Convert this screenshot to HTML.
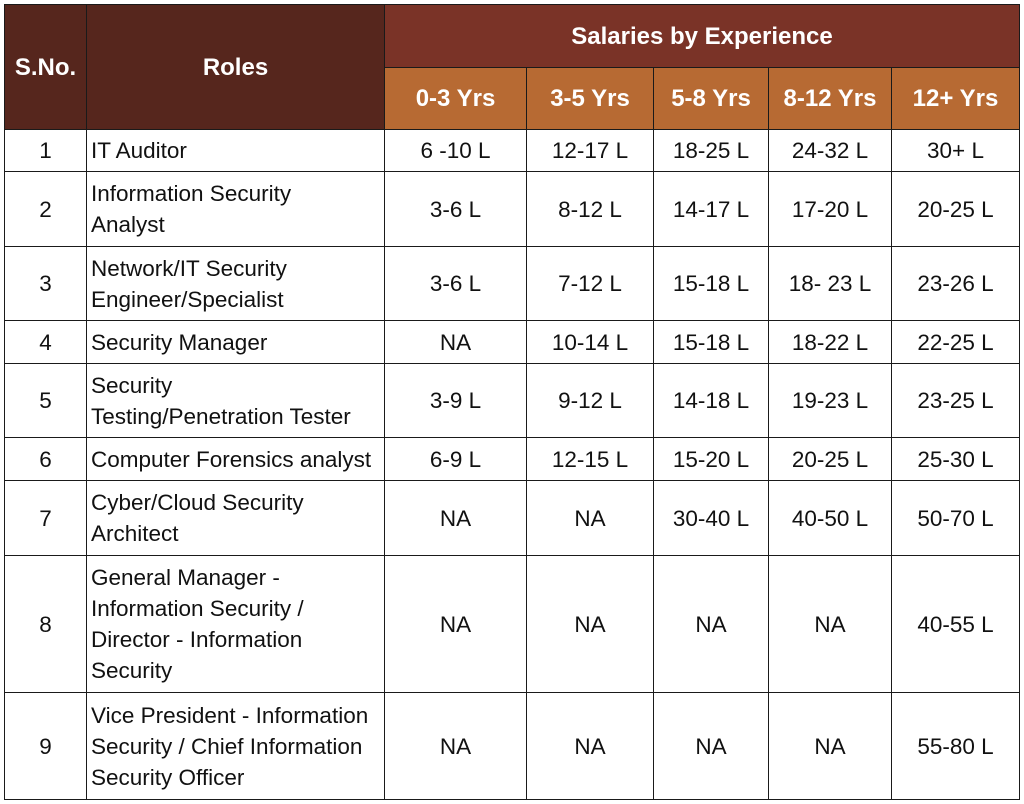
<!DOCTYPE html>
<html><head><meta charset="utf-8"><style>
html,body{margin:0;padding:0;background:#fff;width:1024px;height:804px;overflow:hidden}
table{position:absolute;left:4px;top:4px;border-collapse:collapse;table-layout:fixed;font-family:"Liberation Sans",sans-serif;color:#111}
td,th{border:1.5px solid #1a1a1a;padding:0;font-size:22.5px;font-weight:normal;text-align:center;line-height:31px;white-space:nowrap}
th{color:#fff;font-weight:bold;font-size:24px}
.dk{background:#56261d}.sal{background:#7a3327}.or{background:#b76a33}
td.role{text-align:left;padding-left:4px}
</style></head><body>
<table>
<colgroup><col style="width:82px"><col style="width:298px"><col style="width:142px"><col style="width:127px"><col style="width:115px"><col style="width:123px"><col style="width:128px"></colgroup>
<tr style="height:63px"><th class="dk" rowspan="2">S.No.</th><th class="dk" rowspan="2">Roles</th><th class="sal" colspan="5">Salaries by Experience</th></tr>
<tr style="height:62px"><th class="or">0-3 Yrs</th><th class="or">3-5 Yrs</th><th class="or">5-8 Yrs</th><th class="or">8-12 Yrs</th><th class="or">12+ Yrs</th></tr>
<tr style="height:42px"><td>1</td><td class="role">IT Auditor</td><td>6 -10 L</td><td>12-17 L</td><td>18-25 L</td><td>24-32 L</td><td>30+ L</td></tr>
<tr style="height:75px"><td>2</td><td class="role">Information Security<br>Analyst</td><td>3-6 L</td><td>8-12 L</td><td>14-17 L</td><td>17-20 L</td><td>20-25 L</td></tr>
<tr style="height:74px"><td>3</td><td class="role">Network/IT Security<br>Engineer/Specialist</td><td>3-6 L</td><td>7-12 L</td><td>15-18 L</td><td>18- 23 L</td><td>23-26 L</td></tr>
<tr style="height:43px"><td>4</td><td class="role">Security Manager</td><td>NA</td><td>10-14 L</td><td>15-18 L</td><td>18-22 L</td><td>22-25 L</td></tr>
<tr style="height:74px"><td>5</td><td class="role">Security<br>Testing/Penetration Tester</td><td>3-9 L</td><td>9-12 L</td><td>14-18 L</td><td>19-23 L</td><td>23-25 L</td></tr>
<tr style="height:43px"><td>6</td><td class="role">Computer Forensics analyst</td><td>6-9 L</td><td>12-15 L</td><td>15-20 L</td><td>20-25 L</td><td>25-30 L</td></tr>
<tr style="height:75px"><td>7</td><td class="role">Cyber/Cloud Security<br>Architect</td><td>NA</td><td>NA</td><td>30-40 L</td><td>40-50 L</td><td>50-70 L</td></tr>
<tr style="height:137px"><td>8</td><td class="role">General Manager -<br>Information Security /<br>Director - Information<br>Security</td><td>NA</td><td>NA</td><td>NA</td><td>NA</td><td>40-55 L</td></tr>
<tr style="height:107px"><td>9</td><td class="role">Vice President - Information<br>Security / Chief Information<br>Security Officer</td><td>NA</td><td>NA</td><td>NA</td><td>NA</td><td>55-80 L</td></tr>
</table>
</body></html>
